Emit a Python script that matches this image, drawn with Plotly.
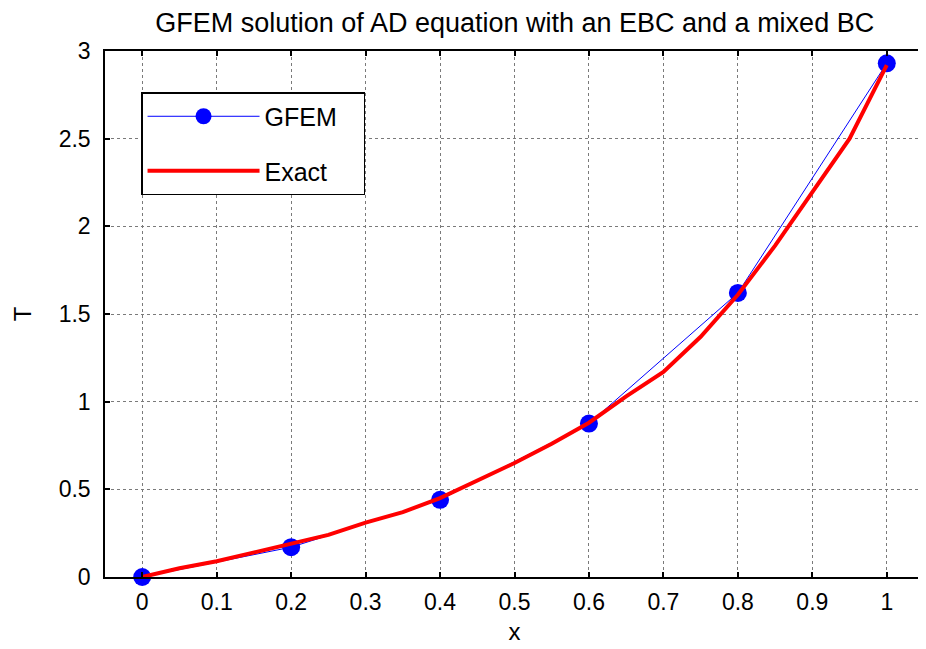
import plotly.graph_objects as go

# GFEM nodal solution
x_gfem = [0.0, 0.2, 0.4, 0.6, 0.8, 1.0]
t_gfem = [0.0, 0.17, 0.44, 0.875, 1.62, 2.93]

# Exact solution
x_exact = [0.0, 0.05, 0.1, 0.15, 0.2, 0.25, 0.3, 0.35, 0.4, 0.45, 0.5,
           0.55, 0.6, 0.65, 0.7, 0.75, 0.8, 0.85, 0.9, 0.95, 1.0]
t_exact = [0.0, 0.05, 0.09, 0.14, 0.19, 0.24, 0.31, 0.37, 0.45, 0.55, 0.65,
           0.76, 0.88, 1.03, 1.17, 1.37, 1.61, 1.89, 2.20, 2.50, 2.92]

x_ticks = [0, 0.1, 0.2, 0.3, 0.4, 0.5, 0.6, 0.7, 0.8, 0.9, 1]
x_labels = ["0", "0.1", "0.2", "0.3", "0.4", "0.5", "0.6", "0.7", "0.8", "0.9", "1"]
y_ticks = [0, 0.5, 1, 1.5, 2, 2.5, 3]
y_labels = ["0", "0.5", "1", "1.5", "2", "2.5", "3"]

FONT = "Liberation Sans, Arial, sans-serif"
PAD = "\u00a0\u00a0\u00a0"

fig = go.Figure()
fig.add_trace(go.Scatter(
    x=x_gfem, y=t_gfem, mode="lines+markers", name="GFEM" + PAD,
    line=dict(color="#0000ff", width=1),
    marker=dict(color="#0000ff", size=18),
    cliponaxis=False, legendgroup="g1",
))
fig.add_trace(go.Scatter(
    x=x_exact, y=t_exact, mode="lines", name="Exact" + PAD,
    line=dict(color="#ff0000", width=4),
    cliponaxis=False, legendgroup="g2",
))

axis_common = dict(
    showline=True, linecolor="black", linewidth=1.5, mirror="ticks",
    ticks="inside", ticklen=5, tickcolor="black", tickwidth=1.5,
    showgrid=True, gridcolor="#7a7a7a", griddash="dot", gridwidth=1,
    zeroline=False, tickfont=dict(family=FONT, size=23, color="black"),
)

fig.update_layout(
    width=918, height=641,
    margin=dict(l=97, r=0, t=43, b=72),
    paper_bgcolor="white", plot_bgcolor="white",
    font=dict(family=FONT, color="black"),
    title=dict(text="GFEM solution of AD equation with an EBC and a mixed BC",
               x=0.552, xanchor="center", y=0.978, yanchor="middle",
               font=dict(family=FONT, size=27, color="black")),
    xaxis=dict(range=[-0.05, 1.05], tickvals=x_ticks, ticktext=x_labels,
               ticklabelstandoff=4,
               title=dict(text="x", font=dict(family=FONT, size=24), standoff=9),
               **axis_common),
    yaxis=dict(range=[0, 3], tickvals=y_ticks, ticktext=y_labels,
               ticklabelstandoff=8,
               title=dict(text="T", font=dict(family=FONT, size=24), standoff=20),
               **axis_common),
    showlegend=True,
    legend=dict(x=0.044, y=0.922, xanchor="left", yanchor="top",
                bgcolor="white", bordercolor="black", borderwidth=1.5,
                font=dict(family=FONT, size=25, color="black"),
                itemwidth=112, tracegroupgap=19, traceorder="grouped"),
)

fig.write_html("out.html")
